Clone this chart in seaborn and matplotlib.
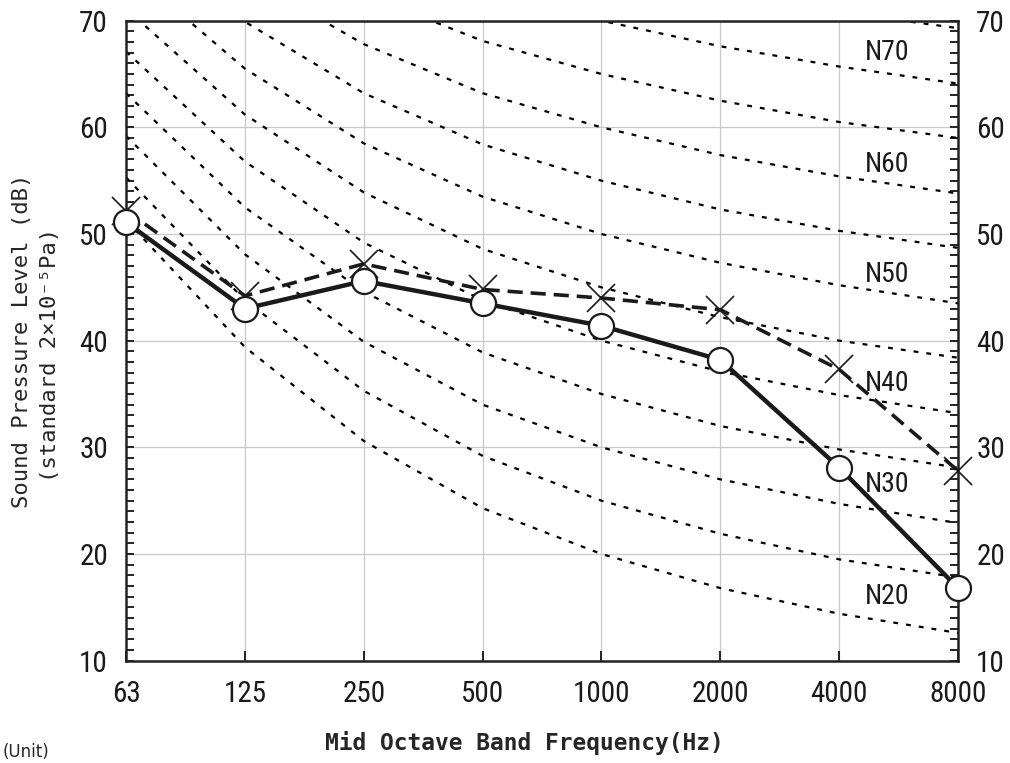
import numpy as np
import pandas as pd
import matplotlib
matplotlib.use("Agg")
import matplotlib.pyplot as plt
import seaborn as sns
from matplotlib.ticker import MultipleLocator

# octave bands (Hz)
bands = ["63", "125", "250", "500", "1000", "2000", "4000", "8000"]

# measured levels (dB)
level_solid = [51.1, 43.0, 45.6, 43.5, 41.4, 38.2, 28.1, 16.8]
level_dashed = [52.2, 44.2, 47.2, 44.8, 44.0, 42.9, 37.3, 27.8]

# NR reference curves, N20 .. N75
nr_20 = [51.3, 39.4, 30.6, 24.3, 20.0, 16.8, 14.4, 12.6]
nr_25 = [55.3, 43.8, 35.3, 29.2, 25.0, 21.9, 19.5, 17.8]
nr_30 = [59.2, 48.1, 39.9, 34.0, 30.0, 27.0, 24.7, 22.9]
nr_35 = [63.2, 52.5, 44.6, 38.9, 35.0, 32.0, 29.8, 28.1]
nr_40 = [67.1, 56.8, 49.2, 43.8, 40.0, 37.1, 34.9, 33.2]
nr_45 = [71.1, 61.2, 53.9, 48.6, 45.0, 42.2, 40.0, 38.4]
nr_50 = [75.0, 65.5, 58.5, 53.5, 50.0, 47.3, 45.2, 43.5]
nr_55 = [79.0, 69.9, 63.2, 58.4, 55.0, 52.3, 50.3, 48.7]
nr_60 = [82.9, 74.2, 67.8, 63.2, 60.0, 57.4, 55.4, 53.8]
nr_65 = [86.9, 78.6, 72.5, 68.1, 65.0, 62.5, 60.5, 59.0]
nr_70 = [90.8, 82.9, 77.1, 73.0, 70.0, 67.6, 65.7, 64.1]
nr_75 = [94.8, 87.3, 81.8, 77.9, 75.0, 72.6, 70.8, 69.3]
nr_curves = [nr_20, nr_25, nr_30, nr_35, nr_40, nr_45,
             nr_50, nr_55, nr_60, nr_65, nr_70, nr_75]

nr_labels = ["N20", "N30", "N40", "N50", "N60", "N70"]
nr_label_y = [16.0, 26.5, 36.0, 46.2, 56.5, 67.0]

sns.set_style("ticks")
plt.rcParams["font.family"] = ["Liberation Sans Narrow", "Roboto Condensed",
                               "Noto Sans CJK JP", "DejaVu Sans"]

fig = plt.figure(figsize=(10.1, 7.63), dpi=100)
ax = fig.add_axes([0.1248, 0.1341, 0.8238, 0.8388])

pos = np.arange(len(bands))

for curve in nr_curves:
    sns.lineplot(x=pos, y=curve, ax=ax, color="black", linewidth=1.6,
                 linestyle=(0, (2.2, 3.6)), zorder=2)

sns.lineplot(x=pos, y=level_dashed, ax=ax, color="#1a1a1a", linewidth=2.6,
             linestyle=(0, (4.2, 2.2)), marker="x", markersize=20,
             markeredgewidth=1.2, markeredgecolor="#1a1a1a",
             clip_on=False, zorder=4)
sns.lineplot(x=pos, y=level_solid, ax=ax, color="#1a1a1a", linewidth=3.2,
             marker="o", markersize=18, markerfacecolor="white",
             markeredgecolor="#1a1a1a", markeredgewidth=1.6,
             clip_on=False, zorder=5)

for lab, yv in zip(nr_labels, nr_label_y):
    ax.text(6.22, yv, lab, fontsize=20, ha="left", va="center", zorder=3,
            color="#1a1a1a")

ax.set_xlim(0, 7)
ax.set_ylim(10, 70)
ax.set_xticks(pos)
ax.set_xticklabels(bands)
ax.yaxis.set_major_locator(MultipleLocator(10))
ax.yaxis.set_minor_locator(MultipleLocator(1))
ax.grid(True, which="major", color="#c8c8c8", linewidth=0.9)
ax.set_axisbelow(True)

ax.tick_params(axis="y", which="both", direction="in", left=True, right=True,
               labelleft=True, labelright=True, length=6, width=1.4,
               color="#222222")
ax.tick_params(axis="y", which="major", labelsize=21, pad=13,
               labelcolor="#1a1a1a")
ax.tick_params(axis="x", which="major", direction="in", length=7, width=1.4,
               labelsize=21, pad=14, color="#222222", labelcolor="#1a1a1a")
for sp in ax.spines.values():
    sp.set_visible(True)
    sp.set_linewidth(1.8)
    sp.set_color("#222222")

mono = ["DejaVu Sans Mono", "DejaVu Sans"]
fig.text(524 / 1010, 1 - 743 / 763, "Mid Octave Band Frequency(Hz)",
         ha="center", va="center", fontsize=16.5, fontweight="bold",
         family=mono)
fig.text(22 / 1010, 1 - 341 / 763, "Sound Pressure Level (dB)", rotation=90,
         ha="center", va="center", fontsize=16, family=mono)
fig.text(50 / 1010, 1 - 355 / 763, "(standard 2\u00d710\u207b\u2075Pa)",
         rotation=90, ha="center", va="center", fontsize=16, family=mono)
fig.text(0.003, 0.002, "(Unit)", ha="left", va="bottom",
         fontsize=12, family=["DejaVu Sans"])

fig.savefig("out.png", dpi=100)
